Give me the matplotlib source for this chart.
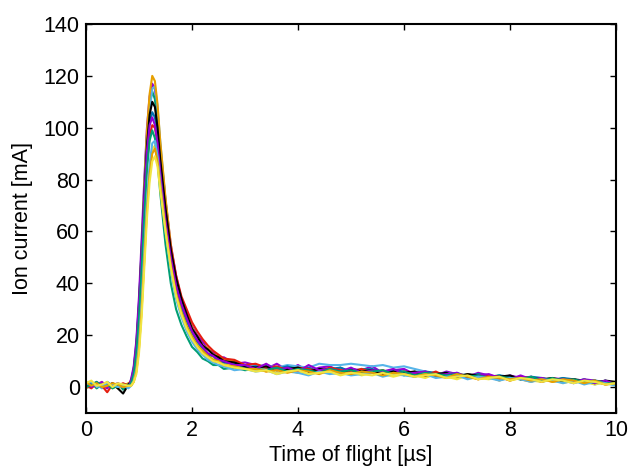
import matplotlib
matplotlib.use("Agg")
import matplotlib.pyplot as plt

# time grid [us]: baseline, peak region, tail
t_base = [0.0, 0.1, 0.2, 0.3, 0.4, 0.5, 0.6, 0.7, 0.8]
t_peak = [0.85, 0.9, 0.95, 1.0, 1.05, 1.1, 1.15, 1.2, 1.25, 1.3, 1.35, 1.4,
          1.5, 1.6, 1.7, 1.8, 1.9, 2.0, 2.1, 2.2, 2.3, 2.4, 2.5, 2.6, 2.8, 3.0]
t_tail = [3.2, 3.4, 3.6, 3.8, 4.0, 4.2, 4.4, 4.6, 4.8, 5.0,
          5.2, 5.4, 5.6, 5.8, 6.0, 6.2, 6.4, 6.6, 6.8, 7.0,
          7.2, 7.4, 7.6, 7.8, 8.0, 8.2, 8.4, 8.6, 8.8, 9.0,
          9.2, 9.4, 9.6, 9.8, 10.0]
time_us = t_base + t_peak + t_tail

# ion current traces [mA], one per shot
shot01 = ([1, 0, 2, 0.5, -0.5, 1.5, 0, 1, 0.5]
          + [3, 8, 18, 35, 57, 80, 100, 112, 117, 115, 106, 93, 72, 55, 43,
             34, 29, 23.5, 20, 17.5, 14.5, 13.5, 11, 11.5, 9, 9.5]
          + [8.5, 7, 9, 6.5, 8.5, 6, 7.5, 8, 6, 7,
             6.5, 8, 5.5, 6.5, 7, 5, 6, 4.5, 6, 5,
             4, 5.5, 4.5, 3, 4.5, 3.5, 4, 2.5, 3.5, 3,
             1.5, 3, 2.5, 1, 2])
shot02 = ([0.5, 2, -0.5, 1, 0.5, 0, 1.5, -1, 0.5]
          + [2, 7, 16, 32, 54, 77, 97, 109, 114, 111, 101, 87, 64, 47, 35,
             28, 23, 18.5, 16, 13, 11.5, 9.5, 10, 8, 8.5, 7]
          + [7, 8.5, 6.5, 8, 7.5, 6, 7, 6, 7.5, 5.5,
             7, 6.5, 5, 6.5, 4.5, 6, 5.5, 4, 5.5, 5,
             3.5, 5, 4, 4.5, 3, 4, 3, 3.5, 2.5, 3.5,
             2, 3, 1.5, 2.5, 1])
shot03 = ([2, 0.5, 1, -0.5, 1.5, 0.5, 0, 1, 1]
          + [1, 4, 11, 25, 45, 68, 90, 106, 115, 116, 108, 95, 72, 53, 40,
             32, 26, 21, 18, 14.5, 13, 11, 10, 9.5, 8, 8.5]
          + [8, 8.5, 7.5, 8.5, 8, 7.5, 9, 8.5, 8.5, 9,
             8.5, 8, 8.5, 7.5, 8, 7, 6, 5, 5.5, 4.5,
             5, 4, 3.5, 4.5, 3, 3.5, 3, 2, 3, 2.5,
             1.5, 2.5, 1, 2, 1.5])
shot04 = ([-0.5, 1, 0.5, 1.5, 0, 1, -0.5, 0.5, 1.5]
          + [2, 6, 15, 31, 53, 77, 99, 113, 120, 118, 109, 95, 73, 55, 42,
             34, 28, 23, 19.5, 16, 15, 12.5, 12, 10.5, 10, 8]
          + [7.5, 6, 7, 6.5, 5.5, 7, 6, 5.5, 7, 5,
             6, 5.5, 6.5, 4.5, 5.5, 5, 4, 5.5, 4, 3.5,
             5, 3.5, 4, 2.5, 4, 3, 2, 3.5, 2, 2.5,
             3, 1.5, 2, 1, 1.5])
shot05 = ([1.5, 0.5, 0, 2, 0.5, -0.5, 1, 0.5, 0]
          + [0.5, 2, 6, 15, 30, 50, 70, 84, 92, 93, 88, 79, 62, 48, 37,
             30, 24.5, 20.5, 17, 14.5, 12, 11, 9.5, 9.5, 7.5, 8]
          + [6.5, 7, 5.5, 6.5, 6, 5, 6.5, 5.5, 5, 6,
             4.5, 5.5, 5, 4, 5, 4.5, 3.5, 5, 4, 3,
             4.5, 3.5, 3, 4, 2.5, 3.5, 2.5, 2, 3, 1.5,
             2.5, 2, 1, 2, 0.5])
shot06 = ([0, 1.5, 1, 0, 2, 0.5, 1, 0, 1]
          + [2, 6, 15, 30, 51, 73, 92, 102, 106, 104, 97, 86, 66, 50, 39,
             31, 25.5, 21, 17.5, 15, 12.5, 12, 10, 9.5, 9, 7.5]
          + [8, 7.5, 7, 8, 6.5, 7.5, 6, 7, 7.5, 6,
             6.5, 7, 5.5, 6.5, 6, 5, 6, 5.5, 4.5, 5.5,
             4, 5, 3.5, 4.5, 4, 3, 4, 3.5, 2.5, 3.5,
             3, 2, 2.5, 2, 1.5])
shot07 = ([1, -0.5, 1.5, 0.5, -2, 1, 0.5, 1.5, 0.5]
          + [1.5, 5, 13, 27, 47, 68, 86, 97, 101, 100, 94, 85, 68, 54, 43,
             35, 30, 25, 21.5, 18.5, 16, 14, 12.5, 11, 10.5, 8.5]
          + [9, 7.5, 8, 6.5, 7.5, 7, 6, 7.5, 6.5, 6,
             7, 5.5, 6.5, 5, 6, 5.5, 4.5, 6, 4, 5,
             4.5, 3, 4.5, 4, 2.5, 4, 3.5, 2, 3.5, 2.5,
             3, 2, 2.5, 1.5, 2])
shot08 = ([0.5, 1, 0, 1, 0.5, 1.5, -0.5, -2.5, 1]
          + [2, 6, 15, 31, 52, 74, 93, 105, 110, 108, 100, 88, 69, 53, 42,
             34, 28, 22.5, 19.5, 16, 14.5, 12.5, 11.5, 10, 9.5, 8]
          + [7.5, 8, 6.5, 7, 7.5, 6, 7, 6.5, 5.5, 7,
             6, 6.5, 5, 6, 5.5, 6, 4.5, 5, 5.5, 4,
             5, 4.5, 3.5, 4, 4.5, 3, 3.5, 3, 3.5, 2,
             3, 2.5, 1.5, 2.5, 2])
shot09 = ([1.5, 0, 1, 2, 0, 0.5, 1.5, 0.5, 0]
          + [2.5, 7, 17, 33, 53, 74, 91, 101, 104, 101, 94, 83, 64, 50, 39,
             32, 26.5, 21.5, 18, 15.5, 13, 12, 10.5, 10, 8.5, 8.5]
          + [7, 9, 6.5, 7.5, 6, 8.5, 6.5, 7, 6, 7.5,
             5.5, 6.5, 6, 7, 5, 5.5, 6, 4.5, 5, 5.5,
             3.5, 4.5, 5, 3.5, 3, 4.5, 3, 3.5, 2.5, 3,
             2, 3, 1.5, 2.5, 1])
shot10 = ([0, 1, 2, 0.5, 1, -0.5, 0.5, 1, 0.5]
          + [1.5, 5, 13, 27, 46, 66, 84, 95, 99, 96, 87, 75, 55, 40, 30,
             24, 19.5, 15.5, 13.5, 11, 10, 8.5, 8.5, 7, 7.5, 6.5]
          + [7, 6.5, 7.5, 6, 7, 6.5, 5.5, 7, 6, 6.5,
             5.5, 6, 6.5, 5, 6, 4.5, 5.5, 5, 4.5, 5,
             4, 4.5, 3.5, 4, 3.5, 3, 4, 2.5, 3.5, 2.5,
             3, 2, 2.5, 1.5, 1.5])
shot11 = ([1, 2, 0, 0.5, 1.5, 1, 0, 0.5, -0.5]
          + [0.5, 2.5, 7, 17, 33, 53, 72, 86, 94, 95, 89, 79, 60, 45, 34,
             27, 21.5, 17.5, 14.5, 12.5, 10.5, 9.5, 8.5, 8, 6.5, 7]
          + [6, 6.5, 5, 6, 5.5, 4.5, 6, 5, 5.5, 4.5,
             5, 5.5, 4, 5, 4.5, 4, 5, 3.5, 4, 4.5,
             3, 4, 3.5, 2.5, 3.5, 3, 2, 3, 2.5, 1.5,
             2.5, 1, 2, 1.5, 0.5])
shot12 = ([2, 0.5, 1.5, 0, 0.5, 1.5, 1, 0, 0.5]
          + [0.5, 2, 6, 15, 30, 49, 68, 82, 90, 92, 87, 78, 61, 47, 36,
             29, 23.5, 19.5, 16, 14, 12, 10.5, 10, 8.5, 8, 7]
          + [7, 6, 6.5, 5.5, 6.5, 6, 5, 6.5, 5.5, 5,
             6, 5.5, 4.5, 5.5, 5, 4, 5, 4.5, 3.5, 5,
             4, 3, 4, 3.5, 3, 3.5, 2.5, 3, 2, 3,
             2.5, 1.5, 2.5, 1, 1.5])
shot13 = ([1.5, 2.5, 0.5, 1, 2, 0, 1.5, 1, 0.5]
          + [0.5, 2, 5, 13, 27, 46, 65, 79, 87, 89, 85, 76, 60, 46, 35,
             28, 22.5, 18.5, 15.5, 13, 11.5, 10, 9.5, 8.5, 7.5, 7]
          + [6, 6.5, 5, 6, 6.5, 5, 5.5, 6, 4.5, 5.5,
             5, 4.5, 5.5, 4.5, 5, 4, 4.5, 5, 3.5, 4,
             4.5, 3, 3.5, 4, 2.5, 3.5, 3, 2, 3, 2.5,
             1.5, 2.5, 2, 1, 1.5])

shots = [shot01, shot02, shot03, shot04, shot05, shot06, shot07,
         shot08, shot09, shot10, shot11, shot12, shot13]

# gnuplot-like default line colours
colors = ['#9400D3', '#009E73', '#56B4E9', '#E69F00', '#F0E442',
          '#0072B2', '#E51E10', '#000000', '#9400D3', '#009E73',
          '#56B4E9', '#E69F00', '#F0E442']


def ion_current_plot() -> plt.Figure:
    """Time-of-flight ion current traces, all shots overlaid."""
    plt.rcParams['font.family'] = ['Liberation Sans', 'DejaVu Sans']
    fig = plt.figure(figsize=(6.31, 4.68), dpi=100)
    ax = fig.add_axes([0.1363, 0.1175, 0.8399, 0.8312])
    for y, c in zip(shots, colors):
        ax.plot(time_us, y, color=c, lw=1.5)
    ax.set_xlim(0, 10)
    ax.set_ylim(-10, 140)
    ax.set_xticks(range(0, 11, 2))
    ax.set_yticks(range(0, 141, 20))
    ax.tick_params(direction='in', top=True, right=True, length=4,
                   width=1, labelsize=15.5, pad=4.5)
    ax.tick_params(axis='x', pad=5)
    for s in ax.spines.values():
        s.set_linewidth(1.5)
    ax.set_xlabel('Time of flight [µs]', fontsize=15.5, labelpad=3)
    ax.set_ylabel('Ion current [mA]', fontsize=15.5, labelpad=8)
    return fig


def main():
    fig = ion_current_plot()
    fig.savefig('out.png', dpi=100)


if __name__ == '__main__':
    main()
